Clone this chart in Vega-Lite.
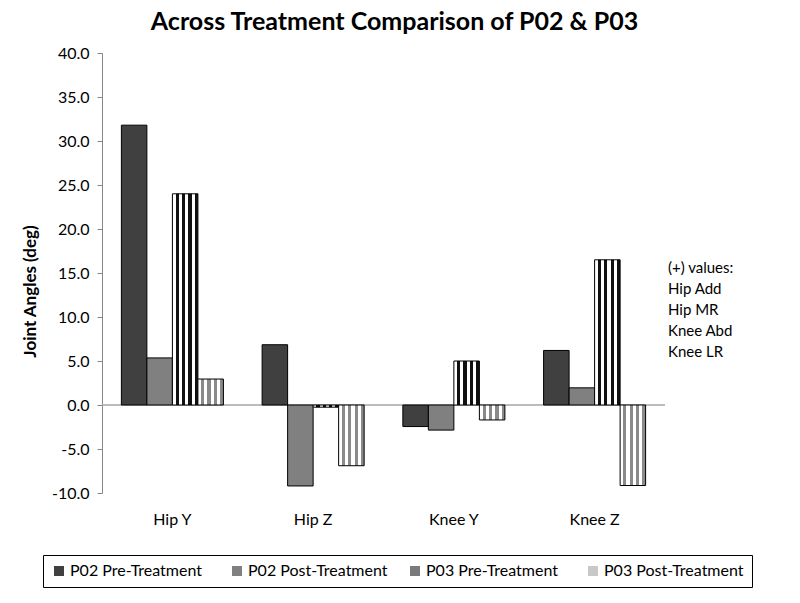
{
  "$schema": "https://vega.github.io/schema/vega-lite/v6.json",
  "autosize": {"type": "none"},
  "width": 563,
  "height": 440,
  "padding": {"left": 102, "top": 53, "right": 135, "bottom": 110},
  "background": "white",
  "title": {
    "text": "Across Treatment Comparison of P02 & P03",
    "font": "Lato",
    "fontSize": 25,
    "fontWeight": "bold",
    "color": "#000",
    "anchor": "middle",
    "dx": 11,
    "offset": 10
  },
  "config": {
    "font": "Lato",
    "view": {"stroke": null},
    "axis": {"labelFont": "Lato", "titleFont": "Lato", "grid": false}
  },
  "layer": [
    {
      "data": {"values": [{"z": 0}]},
      "mark": {"type": "rule", "color": "#a6a6a6", "strokeWidth": 1.5},
      "encoding": {"y": {"field": "z", "type": "quantitative"}}
    },
    {
      "data": {
        "values": [
          {"joint": "Hip Y", "series": "P02 Pre-Treatment", "value": 31.8},
          {"joint": "Hip Y", "series": "P02 Post-Treatment", "value": 5.35},
          {"joint": "Hip Y", "series": "P03 Pre-Treatment", "value": 24.0},
          {"joint": "Hip Y", "series": "P03 Post-Treatment", "value": 2.95},
          {"joint": "Hip Z", "series": "P02 Pre-Treatment", "value": 6.85},
          {"joint": "Hip Z", "series": "P02 Post-Treatment", "value": -9.2},
          {"joint": "Hip Z", "series": "P03 Pre-Treatment", "value": -0.25},
          {"joint": "Hip Z", "series": "P03 Post-Treatment", "value": -6.9},
          {"joint": "Knee Y", "series": "P02 Pre-Treatment", "value": -2.45},
          {"joint": "Knee Y", "series": "P02 Post-Treatment", "value": -2.85},
          {"joint": "Knee Y", "series": "P03 Pre-Treatment", "value": 5.0},
          {"joint": "Knee Y", "series": "P03 Post-Treatment", "value": -1.7},
          {"joint": "Knee Z", "series": "P02 Pre-Treatment", "value": 6.2},
          {"joint": "Knee Z", "series": "P02 Post-Treatment", "value": 1.95},
          {"joint": "Knee Z", "series": "P03 Pre-Treatment", "value": 16.5},
          {"joint": "Knee Z", "series": "P03 Post-Treatment", "value": -9.15}
        ]
      },
      "mark": {"type": "bar", "stroke": "#000", "strokeWidth": 1},
      "encoding": {
        "x": {
          "field": "joint",
          "type": "nominal",
          "sort": ["Hip Y", "Hip Z", "Knee Y", "Knee Z"],
          "scale": {"paddingInner": 0.275, "paddingOuter": 0.1377},
          "axis": {
            "title": null,
            "labelAngle": 0,
            "labelFontSize": 16,
            "labelColor": "#000",
            "labelPadding": 18,
            "ticks": false,
            "domain": false
          }
        },
        "xOffset": {
          "field": "series",
          "type": "nominal",
          "sort": ["P02 Pre-Treatment", "P02 Post-Treatment", "P03 Pre-Treatment", "P03 Post-Treatment"],
          "scale": {"paddingInner": 0, "paddingOuter": 0}
        },
        "y": {
          "field": "value",
          "type": "quantitative",
          "scale": {"domain": [-10, 40], "nice": false, "zero": false},
          "axis": {
            "title": "Joint Angles (deg)",
            "titleFontSize": 17,
            "titleFontWeight": "bold",
            "titleColor": "#000",
            "titlePadding": 12,
            "titleY": 238,
            "values": [-10, -5, 0, 5, 10, 15, 20, 25, 30, 35, 40],
            "labelExpr": "replace(format(datum.value, '.1f'), '\u2212', '-')",
            "labelFontSize": 16,
            "labelColor": "#000",
            "labelPadding": 8,
            "tickSize": 5,
            "tickColor": "#868686",
            "domainColor": "#868686"
          }
        },
        "fill": {
          "field": "series",
          "type": "nominal",
          "sort": ["P02 Pre-Treatment", "P02 Post-Treatment", "P03 Pre-Treatment", "P03 Post-Treatment"],
          "scale": {"range": ["#404040", "#808080", "#7a7a7a", "#c8c8c8"]},
          "condition": [
            {
              "test": "datum.series === 'P03 Pre-Treatment'",
              "value": {"gradient": "linear", "x1": 0, "y1": 0, "x2": 1, "y2": 0, "stops": [
                {"offset": 0, "color": "#ffffff"}, {"offset": 0.125, "color": "#ffffff"},
                {"offset": 0.125, "color": "#111111"}, {"offset": 0.25, "color": "#111111"},
                {"offset": 0.25, "color": "#ffffff"}, {"offset": 0.375, "color": "#ffffff"},
                {"offset": 0.375, "color": "#111111"}, {"offset": 0.5, "color": "#111111"},
                {"offset": 0.5, "color": "#ffffff"}, {"offset": 0.625, "color": "#ffffff"},
                {"offset": 0.625, "color": "#111111"}, {"offset": 0.75, "color": "#111111"},
                {"offset": 0.75, "color": "#ffffff"}, {"offset": 0.875, "color": "#ffffff"},
                {"offset": 0.875, "color": "#111111"}, {"offset": 1, "color": "#111111"}
              ]}
            },
            {
              "test": "datum.series === 'P03 Post-Treatment'",
              "value": {"gradient": "linear", "x1": 0, "y1": 0, "x2": 1, "y2": 0, "stops": [
                {"offset": 0, "color": "#ffffff"}, {"offset": 0.125, "color": "#ffffff"},
                {"offset": 0.125, "color": "#8a8a8a"}, {"offset": 0.25, "color": "#8a8a8a"},
                {"offset": 0.25, "color": "#ffffff"}, {"offset": 0.375, "color": "#ffffff"},
                {"offset": 0.375, "color": "#8a8a8a"}, {"offset": 0.5, "color": "#8a8a8a"},
                {"offset": 0.5, "color": "#ffffff"}, {"offset": 0.625, "color": "#ffffff"},
                {"offset": 0.625, "color": "#8a8a8a"}, {"offset": 0.75, "color": "#8a8a8a"},
                {"offset": 0.75, "color": "#ffffff"}, {"offset": 0.875, "color": "#ffffff"},
                {"offset": 0.875, "color": "#8a8a8a"}, {"offset": 1, "color": "#8a8a8a"}
              ]}
            }
          ],
          "legend": {
            "title": null,
            "orient": "none",
            "legendX": -59,
            "legendY": 502,
            "direction": "horizontal",
            "columns": 4,
            "gridAlign": "all",
            "strokeColor": "#000",
            "padding": 8,
            "symbolType": "square",
            "symbolSize": 100,
            "symbolStrokeColor": "#000",
            "symbolStrokeWidth": 1,
            "labelFont": "Lato",
            "labelFontSize": 16,
            "labelColor": "#000",
            "labelOffset": 3,
            "labelLimit": 300,
            "columnPadding": 19,
            "encode": {
              "symbols": {
                "update": {
                  "fill": [
                    {
                      "test": "datum.value === 'P03 Pre-Treatment'",
                      "value": {"gradient": "linear", "x1": 0, "y1": 0, "x2": 1, "y2": 0, "stops": [
                        {"offset": 0, "color": "#ffffff"}, {"offset": 0.25, "color": "#ffffff"},
                        {"offset": 0.25, "color": "#111111"}, {"offset": 0.5, "color": "#111111"},
                        {"offset": 0.5, "color": "#ffffff"}, {"offset": 0.75, "color": "#ffffff"},
                        {"offset": 0.75, "color": "#111111"}, {"offset": 1, "color": "#111111"}
                      ]}
                    },
                    {
                      "test": "datum.value === 'P03 Post-Treatment'",
                      "value": {"gradient": "linear", "x1": 0, "y1": 0, "x2": 1, "y2": 0, "stops": [
                        {"offset": 0, "color": "#ffffff"}, {"offset": 0.25, "color": "#ffffff"},
                        {"offset": 0.25, "color": "#8a8a8a"}, {"offset": 0.5, "color": "#8a8a8a"},
                        {"offset": 0.5, "color": "#ffffff"}, {"offset": 0.75, "color": "#ffffff"},
                        {"offset": 0.75, "color": "#8a8a8a"}, {"offset": 1, "color": "#8a8a8a"}
                      ]}
                    },
                    {"scale": "fill", "field": "value"}
                  ]
                }
              }
            }
          }
        }
      }
    },
    {
      "data": {
        "values": [
          {"note": "Hip Add"},
          {"note": "Hip MR"},
          {"note": "Knee Abd"},
          {"note": "Knee LR"}
        ]
      },
      "mark": {"type": "point", "opacity": 0},
      "encoding": {
        "shape": {
          "field": "note",
          "type": "nominal",
          "sort": ["Hip Add", "Hip MR", "Knee Abd", "Knee LR"],
          "legend": {
            "title": "(+) values:",
            "orient": "none",
            "legendX": 566,
            "legendY": 208,
            "padding": 0,
            "titleFont": "Lato",
            "titleFontSize": 15,
            "titleFontWeight": "normal",
            "titleColor": "#000",
            "titlePadding": 5,
            "symbolSize": 1,
            "symbolOpacity": 0,
            "labelOffset": -15,
            "labelFont": "Lato",
            "labelFontSize": 15,
            "labelColor": "#000",
            "rowPadding": 5
          }
        }
      }
    }
  ]
}
